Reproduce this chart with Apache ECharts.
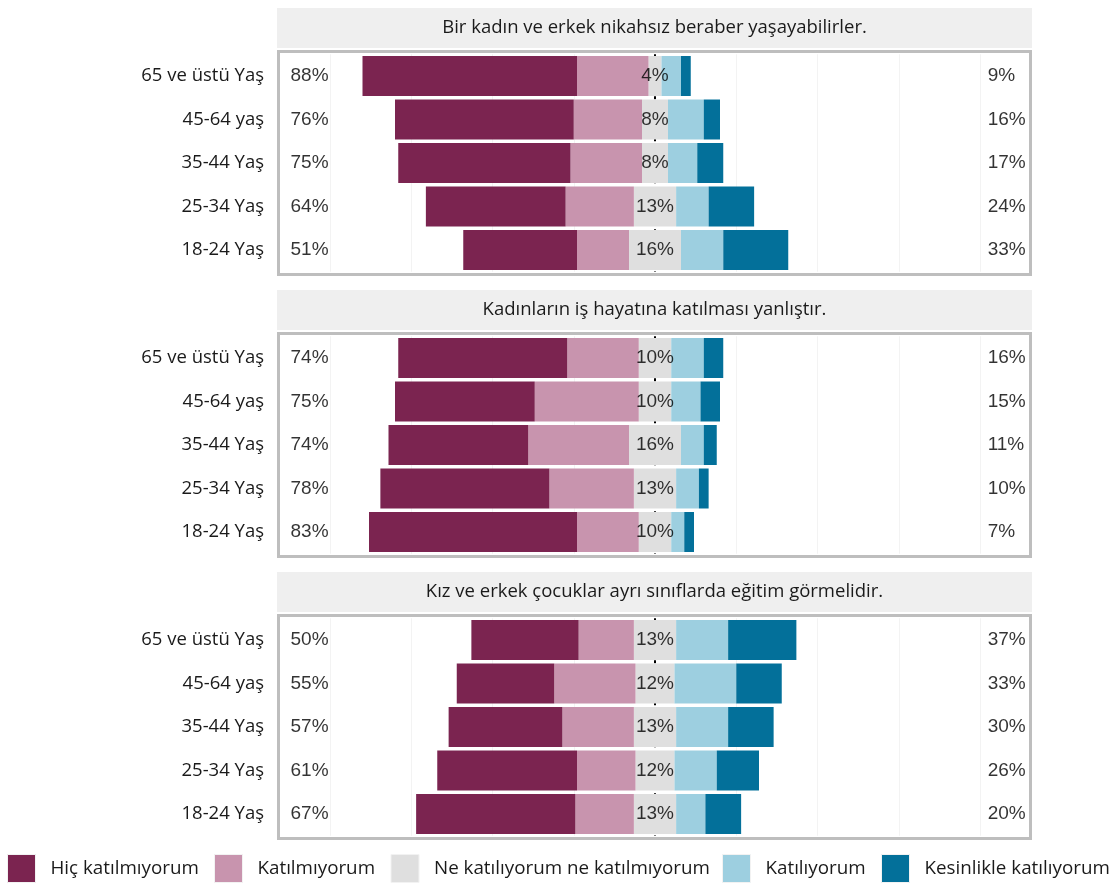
<!DOCTYPE html>
<html>
<head>
<meta charset="utf-8">
<script src="https://cdn.jsdelivr.net/npm/echarts@6/dist/echarts.min.js"></script>
<style>
html, body { margin: 0; padding: 0; background: #fff; }
#chart { width: 1111px; height: 884px; }
</style>
</head>
<body>
<div id="chart"></div>
<script>
// yas gruplari (ustten alta)
const yasGruplari = ['65 ve üstü Yaş', '45-64 yaş', '35-44 Yaş', '25-34 Yaş', '18-24 Yaş'];
const sorular = [
    'Bir kadın ve erkek nikahsız beraber yaşayabilirler.',
    'Kadınların iş hayatına katılması yanlıştır.',
    'Kız ve erkek çocuklar ayrı sınıflarda eğitim görmelidir.'
];
const cevaplar = ['Hiç katılmıyorum', 'Katılmıyorum', 'Ne katılıyorum ne katılmıyorum', 'Katılıyorum', 'Kesinlikle katılıyorum'];

// her soru icin yuzdeler, yas gruplari sirasinda
const hicKatilmiyorum = [[66, 55, 53, 43, 35], [52, 43, 43, 52, 64], [33, 30, 35, 43, 49]];
const katilmiyorum    = [[22, 21, 22, 21, 16], [22, 32, 31, 26, 19], [17, 25, 22, 18, 18]];
const notr            = [[4, 8, 8, 13, 16],    [10, 10, 16, 13, 10], [13, 12, 13, 12, 13]];
const katiliyorum     = [[6, 11, 9, 10, 13],   [10, 9, 7, 7, 4],     [16, 19, 16, 13, 9]];
const kesinlikle      = [[3, 5, 8, 14, 20],    [6, 6, 4, 3, 3],      [21, 14, 14, 13, 11]];

const izgaraCizgileri = [-100, -75, -50, -25, 25, 50, 75, 100];

const renkler = ['#7b2450', '#c894ae', '#dfdfdf', '#9dcfe0', '#03709a'];
const panelUst = [8, 290, 572];
const legendSol = [7, 214, 390.5, 722, 881];

let chart = echarts.init(document.getElementById('chart'));

let grids = [], xAxes = [], yAxes = [], series = [], graphics = [];

sorular.forEach((soru, p) => {
    let t = panelUst[p];
    // baslik seridi
    graphics.push({
        type: 'rect', silent: true, z: -1,
        shape: { x: 277, y: t, width: 755, height: 40 },
        style: { fill: '#efefef' }
    });
    graphics.push({
        type: 'text', silent: true, x: 654.5, y: t + 20,
        style: { text: soru, fill: '#1a1a1a', fontSize: 18.5, fontFamily: 'Open Sans', align: 'center', verticalAlign: 'middle' }
    });
    // panel cercevesi
    graphics.push({
        type: 'rect', silent: true, z: 10,
        shape: { x: 278.5, y: t + 43.5, width: 752, height: 223 },
        style: { fill: null, stroke: '#bebebe', lineWidth: 3 }
    });

    grids.push({ left: 278, width: 754, top: t + 46.25, height: 217.5 });
    xAxes.push({ gridIndex: p, type: 'value', min: -116, max: 116, show: false });
    yAxes.push({
        gridIndex: p, type: 'category', data: yasGruplari, inverse: true,
        axisLine: { show: false }, axisTick: { show: false }, splitLine: { show: false },
        axisLabel: { margin: 14, fontSize: 18.5, fontFamily: 'Open Sans', color: '#1a1a1a' }
    });

    // izgara ve orta cizgi (cubuklarin altinda)
    series.push({
        type: 'line', xAxisIndex: p, yAxisIndex: p, data: [], z: 0,
        markLine: {
            silent: true, symbol: 'none', label: { show: false }, z: 0,
            data: izgaraCizgileri.map(v => ({ xAxis: v, lineStyle: { color: '#f3f3f3', width: 1, type: 'solid' } }))
                .concat([{ xAxis: 0, lineStyle: { color: '#000', width: 2, type: [3, 4] } }])
        }
    });

    let bar = (ad, renk, veri) => ({
        type: 'bar', name: ad, stack: 's' + p, xAxisIndex: p, yAxisIndex: p,
        barWidth: 40, itemStyle: { color: renk }, data: veri, z: 2
    });
    series.push(bar(cevaplar[2], renkler[2], notr[p].map(v => -v / 2)));
    series.push(bar(cevaplar[1], renkler[1], katilmiyorum[p].map(v => -v)));
    series.push(bar(cevaplar[0], renkler[0], hicKatilmiyorum[p].map(v => -v)));
    series.push(bar(cevaplar[2], renkler[2], notr[p].map(v => v / 2)));
    series.push(bar(cevaplar[3], renkler[3], katiliyorum[p]));
    series.push(bar(cevaplar[4], renkler[4], kesinlikle[p]));

    // yuzde etiketleri
    let solToplam = hicKatilmiyorum[p].map((v, i) => v + katilmiyorum[p][i]);
    let sagToplam = katiliyorum[p].map((v, i) => v + kesinlikle[p][i]);
    let etiket = (x, degerler, konum) => ({
        type: 'scatter', xAxisIndex: p, yAxisIndex: p, z: 5, silent: true,
        symbolSize: 1, itemStyle: { color: 'rgba(0,0,0,0)' },
        data: yasGruplari.map((g, i) => [x, g, degerler[i]]),
        label: {
            show: true, position: konum, distance: 0,
            fontSize: 19, fontFamily: 'Liberation Sans', color: '#000',
            formatter: prm => prm.value[2] + '%'
        }
    });
    series.push(etiket(-112.3, solToplam, 'right'));
    series.push(etiket(0, notr[p], 'inside'));
    series.push(etiket(102.2, sagToplam, 'right'));
});

chart.setOption({
    animation: false,
    backgroundColor: '#fff',
    grid: grids,
    xAxis: xAxes,
    yAxis: yAxes,
    legend: cevaplar.map((ad, i) => ({
        data: [ad], left: legendSol[i], top: 854, padding: 0,
        itemWidth: 28, itemHeight: 28, icon: 'rect', selectedMode: false,
        itemStyle: { borderColor: '#f2f2f2', borderWidth: 1 },
        textStyle: { fontSize: 18.8, fontFamily: 'Open Sans', color: '#1a1a1a', padding: [0, 0, 0, 10] }
    })),
    graphic: graphics,
    series: series
});
</script>
</body>
</html>
